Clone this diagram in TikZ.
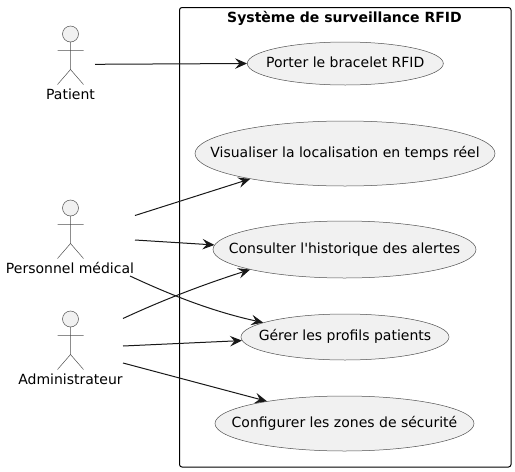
\documentclass[tikz,border=0pt]{standalone}
\usepackage{fontspec}
\setmainfont{DejaVu Sans}[Ligatures=TeXOff]
\usetikzlibrary{arrows.meta,shapes.geometric}
\definecolor{ink}{HTML}{181818}
\definecolor{thinink}{HTML}{505050}
\definecolor{pale}{HTML}{F1F1F1}
\newcommand{\uctext}[1]{\makebox[0pt]{#1}}
\tikzset{
  usecase/.style={ellipse,draw=thinink,line width=0.5pt,fill=pale,inner sep=0pt,text=black,font=\fontsize{14}{16}\selectfont,text height=10.5pt,text depth=3pt},
  actorlabel/.style={anchor=base,inner sep=0pt,text=black,font=\fontsize{14}{16}\selectfont},
  link/.style={draw=ink,line width=1pt,-{Stealth[length=12pt,width=10.5pt,inset=4.5pt]}},
  systembox/.style={draw=black,line width=1pt,rounded corners=2.5pt},
  pics/actorfig/.style={code={
    \draw[draw=thinink,line width=0.5pt,fill=pale] (0,0) circle[radius=8pt];
    \draw[draw=thinink,line width=0.5pt] (0,8) -- (0,35.5) (-13,16.5) -- (13,16.5) (-13,50.5) -- (0,35.5) -- (13,50.5);
  }}
}
\begin{document}
\begin{tikzpicture}[x=1pt,y=-1pt]
\useasboundingbox (0,0) rectangle (515,472);
\draw[systembox] (179.5,7.5) rectangle (511,467);
\node[inner sep=0pt,anchor=base,font=\fontsize{14}{16}\selectfont\bfseries] (title) at (344.5,22) {Système de surveillance RFID};
\node[usecase,minimum width=196pt,minimum height=43pt] (porter) at (345.3,63.5) {\uctext{Porter le bracelet RFID}};
\node[usecase,minimum width=300pt,minimum height=65pt] (visu) at (345,153.5) {\uctext{Visualiser la localisation en temps réel}};
\node[usecase,minimum width=263pt,minimum height=57pt] (consult) at (344.5,249.5) {\uctext{Consulter l'historique des alertes}};
\node[usecase,minimum width=208pt,minimum height=46pt] (gerer) at (345,337) {\uctext{Gérer les profils patients}};
\node[usecase,minimum width=259pt,minimum height=55pt] (config) at (344.5,423.5) {\uctext{Configurer les zones de sécurité}};
\pic at (70.5,34) {actorfig};
\pic at (70.5,208) {actorfig};
\pic at (70.5,319) {actorfig};
\node[actorlabel] (patient) at (70.5,99) {Patient};
\node[actorlabel] (perso) at (70,273) {Personnel médical};
\node[actorlabel] (admin) at (70.5,384) {Administrateur};
\draw[link] ([shift={(24.5,-34.7)}]patient.base) -- (porter.180);
\draw[link] ([shift={(65,-57.5)}]perso.base) -- (visu.195.3);
\draw[link] ([shift={(65,-33)}]perso.base) -- (consult.178);
\draw[link] ([shift={(60,3)}]perso.base) .. controls (175,297) and (215,312) .. (gerer.170.4);
\draw[link] ([shift={(52.5,-65.5)}]admin.base) .. controls (165,299) and (205,284) .. (consult.192.5);
\draw[link] ([shift={(52.5,-38)}]admin.base) -- (gerer.182.2);
\draw[link] ([shift={(52.5,-21)}]admin.base) -- (config.164.7);
\end{tikzpicture}
\end{document}
